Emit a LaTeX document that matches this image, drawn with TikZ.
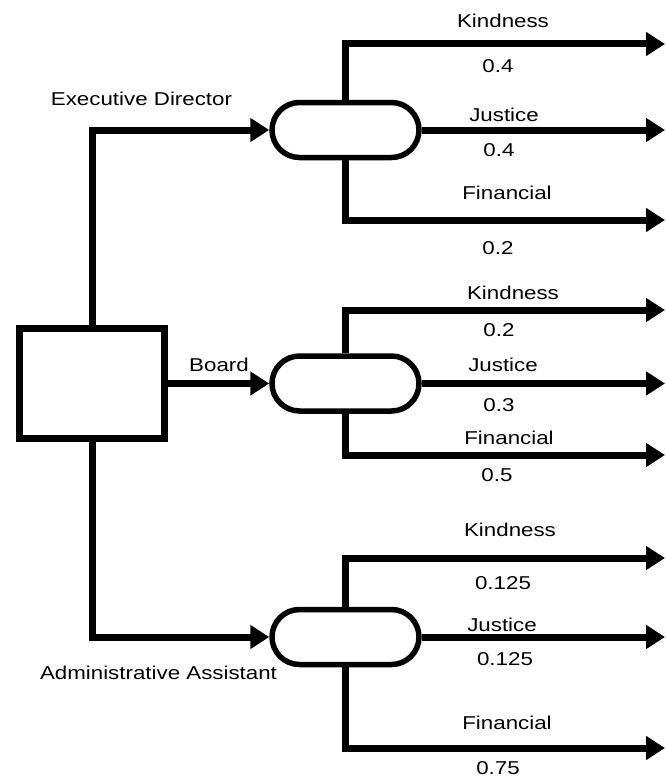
\documentclass[tikz,border=0pt]{standalone}
\usepackage{fontspec}
\newfontfamily\labfont{Liberation Sans}[FakeStretch=1.2]
\usetikzlibrary{shapes.misc,arrows.meta}
\begin{document}
\begin{tikzpicture}[x=1pt,y=-1pt,
  conn/.style={line width=7pt},
  arr/.style={conn,-{Triangle[length=19pt,width=23pt]}},
  pill/.style={draw,rounded rectangle,line width=5.5pt,minimum width=147pt,minimum height=55pt,inner sep=0pt},
  sqbox/.style={draw,rectangle,line width=7pt,minimum width=145pt,minimum height=110pt,inner sep=0pt},
  lab/.style={inner sep=0pt,font=\labfont\fontsize{18.6}{22}\selectfont}]
\useasboundingbox (0,0) rectangle (666,784);
% nodes
\node[sqbox] (sq) at (92,383.5) {};
\node[pill] (p1) at (345.5,130) {};
\node[pill] (p2) at (345.5,383.5) {};
\node[pill] (p3) at (345.5,637) {};
% end points
\coordinate (e1k) at (665,44);
\coordinate (e1j) at (665,130);
\coordinate (e1f) at (665,220);
\coordinate (e2k) at (665,310);
\coordinate (e2j) at (665,383.5);
\coordinate (e2f) at (665,455);
\coordinate (e3k) at (665,558);
\coordinate (e3j) at (665,637);
\coordinate (e3f) at (665,748);
% connectors from decision box
\draw[arr] (sq.north) |- (p1.west);
\draw[arr] (sq.east) -- (p2.west);
\draw[arr] (sq.south) |- (p3.west);
% branches
\foreach \p/\k in {p1/1,p2/2,p3/3}{
  \draw[arr] (\p.north) |- (e\k k);
  \draw[arr] (\p.east) -- (e\k j);
  \draw[arr] (\p.south) |- (e\k f);
}
% labels
\node[lab] (lED) at (141.5,99) {Executive Director};
\node[lab] (lB) at (219,365) {Board};
\node[lab] (lAA) at (158.5,673) {Administrative Assistant};
\node[lab] (k1) at (503,21) {Kindness};
\node[lab] (k1v) at (498,66) {0.4};
\node[lab] (j1) at (504,115) {Justice};
\node[lab] (j1v) at (499,150) {0.4};
\node[lab] (f1) at (507,193) {Financial};
\node[lab] (f1v) at (498,248) {0.2};
\node[lab] (k2) at (513,293) {Kindness};
\node[lab] (k2v) at (499,330) {0.2};
\node[lab] (j2) at (503,365) {Justice};
\node[lab] (j2v) at (499,405) {0.3};
\node[lab] (f2) at (509,438) {Financial};
\node[lab] (f2v) at (497,475) {0.5};
\node[lab] (k3) at (510,530) {Kindness};
\node[lab] (k3v) at (503,583) {0.125};
\node[lab] (j3) at (502,625) {Justice};
\node[lab] (j3v) at (505,659) {0.125};
\node[lab] (f3) at (507,723) {Financial};
\node[lab] (f3v) at (498,768) {0.75};
\end{tikzpicture}
\end{document}
